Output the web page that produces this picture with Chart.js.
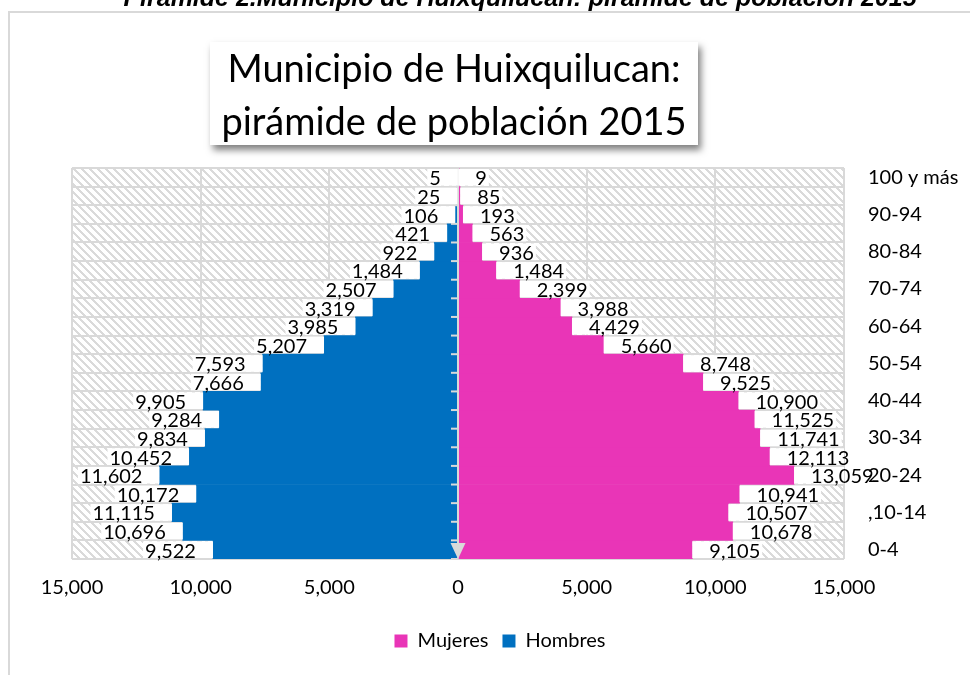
<!DOCTYPE html>
<html><head><meta charset="utf-8">
<script src="https://cdn.jsdelivr.net/npm/chart.js@4.4.0/dist/chart.umd.min.js"></script>
<style>
html,body{margin:0;padding:0;background:#fff;}
#wrap{position:relative;width:970px;height:675px;overflow:hidden;}
#frame{position:absolute;left:8px;top:11px;width:1200px;height:1000px;border:2px solid #d9d9d9;box-sizing:border-box;}
#caption{position:absolute;left:70px;width:900px;top:-15px;text-align:center;font:italic bold 25px "Liberation Sans",Arial,sans-serif;line-height:25px;white-space:nowrap;color:#000;}
#titlebox{position:absolute;left:210px;top:42px;width:488px;height:103px;background:#fff;box-shadow:3px 5px 7px rgba(0,0,0,0.5);}
#title{position:absolute;left:210px;top:41px;width:488px;text-align:center;font:38px Lato,sans-serif;line-height:53px;color:#000;}
#c{position:absolute;left:0;top:0;}
</style></head>
<body>
<div id="wrap">
  <div id="frame"></div>
  <canvas id="c" width="970" height="675"></canvas>
  <div id="titlebox"></div>
  <div id="title">Municipio de Huixquilucan:<br>pirámide de población 2015</div>
  <div id="caption">Pirámide 2.Municipio de Huixquilucan: pirámide de población 2015</div>
</div>
<script>
const categories = ['0-4','5-9',',10-14','15-19','20-24','25-29','30-34','35-39','40-44','45-49','50-54','55-59','60-64','65-69','70-74','75-79','80-84','85-89','90-94','95-99','100 y más'];
const mujeres = [9105,10678,10507,10941,13059,12113,11741,11525,10900,9525,8748,5660,4429,3988,2399,1484,936,563,193,85,9];
const hombres = [9522,10696,11115,10172,11602,10452,9834,9284,9905,7666,7593,5207,3985,3319,2507,1484,922,421,106,25,5];
const xTicks = [-15000,-10000,-5000,0,5000,10000,15000];

const PINK = '#E935B7', BLUE = '#0070C0', GRID = '#d9d9d9';

function makeHatch(){
  const c=document.createElement('canvas'); c.width=8; c.height=8;
  const g=c.getContext('2d'); g.fillStyle='#fff'; g.fillRect(0,0,8,8);
  g.fillStyle='#dadada';
  for(let y=0;y<8;y++) for(let x=0;x<8;x++){ if((((x-y)%8)+8)%8<3) g.fillRect(x,y,1,1); }
  return c;
}

const hatchBg = { id:'hatchBg', beforeDraw(chart){
  const {ctx, chartArea:a} = chart;
  ctx.save();
  ctx.fillStyle = ctx.createPattern(makeHatch(),'repeat');
  ctx.fillRect(a.left,a.top,a.right-a.left,a.bottom-a.top);
  ctx.restore();
}};

const overlay = { id:'overlay', afterDatasetsDraw(chart){
  const {ctx, chartArea:a, scales:{x,y}} = chart;
  const x0 = x.getPixelForValue(0);
  const step = Math.abs(y.getPixelForValue(1)-y.getPixelForValue(0));
  ctx.save();
  ctx.strokeStyle = GRID; ctx.lineWidth = 2;
  ctx.beginPath(); ctx.moveTo(x0,a.top); ctx.lineTo(x0,a.bottom-10); ctx.stroke();
  for(let k=0;k<=categories.length;k++){
    const yy = a.bottom - k*step;
    ctx.beginPath(); ctx.moveTo(x0-7,yy); ctx.lineTo(x0,yy); ctx.stroke();
  }
  ctx.fillStyle = GRID;
  ctx.beginPath(); ctx.moveTo(x0-7.5,a.bottom-16); ctx.lineTo(x0+7.5,a.bottom-16); ctx.lineTo(x0,a.bottom); ctx.closePath(); ctx.fill();
  ctx.font = '20px Lato';
  ctx.textBaseline = 'middle';
  const items = [];
  chart.data.datasets.forEach((ds,di)=>{
    chart.getDatasetMeta(di).data.forEach((bar,i)=>{
      const v = ds.data[i];
      const txt = Math.abs(v).toLocaleString('en-US');
      const w = ctx.measureText(txt).width;
      let tx,bx0,bx1,al;
      if(v<0){ tx=bar.x-17; bx0=tx-w-2; bx1=bar.x; al='right'; }
      else { tx=bar.x+17; bx0=bar.x; bx1=tx+w+2; al='left'; }
      items.push({txt,tx,ty:bar.y+1.5,bx0,bx1,by:bar.y,al});
    });
  });
  ctx.fillStyle='#fff';
  const hh = step/2 - 1;
  items.forEach(it=>{
    const l=Math.max(it.bx0,a.left), r=Math.min(it.bx1,a.right);
    if(r>l) ctx.fillRect(l,it.by-hh,r-l,2*hh);
  });
  ctx.fillStyle='#000';
  items.forEach(it=>{ ctx.textAlign=it.al; ctx.fillText(it.txt,it.tx,it.ty); });
  ctx.restore();
}};

const chart = new Chart(document.getElementById('c'), {
  type:'bar',
  data:{
    labels: categories,
    datasets:[
      {label:'Mujeres', data: mujeres, backgroundColor: PINK, borderWidth:0, barPercentage:1, categoryPercentage:1},
      {label:'Hombres', data: hombres.map(v=>-v), backgroundColor: BLUE, borderWidth:0, barPercentage:1, categoryPercentage:1}
    ]
  },
  options:{
    indexAxis:'y',
    responsive:false,
    animation:false,
    devicePixelRatio:1,
    layout:{padding:{left:30,right:0,top:168,bottom:14}},
    scales:{
      x:{
        stacked:true, min:-15000, max:15000,
        afterBuildTicks: s => { s.ticks = xTicks.map(v=>({value:v})); },
        afterFit: s => { s.height = 58; s.paddingLeft = 72; },
        grid:{color:GRID, lineWidth:2, drawTicks:false},
        border:{display:false},
        ticks:{padding:17, color:'#000', font:{family:'Lato', size:20}, maxRotation:0,
          callback: v => Math.abs(v).toLocaleString('en-US')}
      },
      y:{
        stacked:true, position:'right', reverse:true,
        afterFit: s => { s.width = 126; },
        grid:{color:GRID, lineWidth:2, drawTicks:false, offset:true},
        border:{display:false},
        ticks:{padding:24, color:'#000', autoSkip:false, font:{family:'Lato', size:20},
          callback: (v,i) => i%2===0 ? categories[i] : ''}
      }
    },
    plugins:{
      legend:{position:'bottom', labels:{boxWidth:13, boxHeight:13, padding:14, color:'#000', font:{family:'Lato', size:20}}},
      tooltip:{enabled:false}
    }
  },
  plugins:[hatchBg, overlay]
});
</script>
</body></html>
